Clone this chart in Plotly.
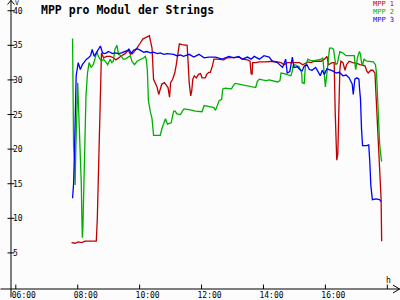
import plotly.graph_objects as go

# ---------------- data ----------------
t_mpp1 = ["07:48","07:55","08:01","08:08","08:14","08:21","08:27","08:36","08:38","08:40",
          "08:42","08:44","08:46","08:50","08:56","09:03","09:09","09:14","09:19","09:25",
          "09:32","09:38","09:42","09:46","09:52","09:57","10:01","10:06","10:11","10:16",
          "10:19","10:21","10:24","10:27","10:30","10:34","10:37","10:40","10:43","10:48",
          "10:52","10:55","10:58","11:00","11:04","11:08","11:11","11:14","11:17","11:22",
          "11:28","11:32","11:34","11:36","11:39","11:41","11:43","11:46","11:50","11:54",
          "11:58","12:01","12:07","12:10","12:14","12:17","12:21","12:24","12:30","12:37",
          "12:43","12:50","12:59","13:09","13:13","13:19","13:29","13:34","13:36","13:38",
          "13:39","13:45","13:52","14:05","14:17","14:27","14:34","14:40","14:46","14:56",
          "15:06","15:10","15:16","15:26","15:32","15:39","15:52","15:58","16:03","16:06",
          "16:13","16:17","16:19","16:21","16:22","16:24","16:26","16:28","16:30","16:34",
          "16:38","16:41","16:46","16:53","17:01","17:07","17:14","17:17","17:20","17:23",
          "17:28","17:32","17:36","17:38","17:41","17:43","17:45","17:46","17:48","17:49"]
v_mpp1 = [6.5,6.4,6.6,6.5,6.7,6.7,6.7,6.7,10.0,16.2,
          25.8,30.6,33.9,33.2,33.4,33.4,33.2,32.9,33.2,33.5,
          33.8,34.3,33.7,33.8,34.3,34.8,35.3,35.9,36.1,36.3,
          36.4,35.6,34.6,30.1,29.6,28.9,27.9,28.8,29.4,29.6,
          29.2,28.9,27.5,29.6,30.1,31.0,32.2,33.9,35.2,35.1,
          35.1,35.0,32.5,29.6,27.7,28.4,30.1,30.6,30.3,30.8,
          30.9,30.3,30.3,30.8,31.1,31.1,32.0,33.0,33.0,33.0,
          32.9,33.2,33.2,33.2,33.3,33.0,32.9,32.7,30.9,30.8,
          32.5,32.5,32.6,32.6,32.7,32.6,32.5,32.2,32.5,32.5,
          32.5,32.5,32.2,32.6,32.5,32.7,32.7,33.0,33.4,32.2,
          32.5,32.5,25.3,20.1,18.4,19.3,25.3,31.5,32.7,32.5,
          31.4,32.2,32.7,32.5,32.4,32.2,32.1,32.0,31.3,31.0,
          31.4,31.4,31.0,27.7,23.9,20.5,18.2,15.3,12.7,6.7]

t_mpp2 = ["07:50","07:52","07:54","07:55","07:56","07:58","08:00","08:02","08:05","08:07",
          "08:08","08:09","08:10","08:12","08:14","08:16","08:19","08:22","08:26","08:30",
          "08:34","08:37","08:40","08:43","08:46","08:50","08:54","08:58","09:03","09:06",
          "09:09","09:12","09:16","09:19","09:24","09:28","09:32","09:36","09:42","09:45",
          "09:50","09:55","10:01","10:08","10:11","10:13","10:15","10:17","10:21","10:24",
          "10:27","10:34","10:40","10:43","10:47","10:50","10:54","11:01","11:06","11:09",
          "11:12","11:19","11:23","11:26","11:36","11:48","12:01","12:05","12:11","12:17",
          "12:24","12:27","12:30","12:34","12:39","12:41","12:46","12:53","12:58","13:01",
          "13:05","13:12","13:19","13:29","13:39","13:45","13:48","13:52","13:58","14:05",
          "14:11","14:17","14:27","14:32","14:34","14:40","14:50","14:53","14:56","14:57",
          "15:01","15:06","15:09","15:14","15:15","15:19","15:21","15:26","15:32","15:39",
          "15:45","15:52","15:55","15:58","16:00","16:03","16:06","16:08","16:13","16:16",
          "16:18","16:20","16:23","16:26","16:28","16:34","16:40","16:50","16:56","16:58",
          "16:59","17:02","17:05","17:06","17:08","17:10","17:12","17:15","17:20","17:26",
          "17:33","17:37","17:39","17:41","17:43","17:45","17:47","17:49"]
v_mpp2 = [36.0,20.5,18.6,14.8,19.1,24.8,29.6,25.3,20.1,14.8,
          10.0,7.2,8.6,15.8,22.9,27.7,31.0,32.5,31.8,32.2,
          33.2,34.1,33.4,33.0,32.7,33.0,32.5,32.2,33.0,32.5,
          32.7,34.4,35.0,33.7,33.5,33.0,33.0,33.2,33.5,32.7,
          32.2,32.7,32.9,33.2,33.4,32.9,31.3,27.0,25.3,24.4,
          22.0,22.0,22.0,22.9,23.9,24.4,23.6,23.8,25.5,25.5,
          25.1,25.0,25.5,25.8,25.7,25.5,25.4,26.3,26.2,26.1,
          26.0,25.6,26.3,27.0,27.2,28.7,28.8,28.8,28.7,29.1,
          29.5,29.4,29.3,29.1,28.9,28.9,29.8,30.1,30.0,29.9,
          30.0,29.9,29.7,29.9,31.0,30.9,30.7,30.6,31.3,32.0,
          32.2,32.0,31.9,31.0,29.6,29.5,31.8,33.0,32.8,32.8,
          32.9,33.0,33.2,30.6,29.0,31.0,33.4,34.6,34.6,34.4,
          33.2,32.2,32.4,33.5,34.1,33.9,33.5,33.5,33.5,31.8,
          31.5,33.2,33.8,34.1,33.7,32.5,32.2,33.0,32.7,32.7,
          32.6,32.2,31.0,27.7,23.9,21.0,19.3,18.2]

t_mpp3 = ["07:50","07:52","07:54","07:56","07:57","08:01","08:05","08:09","08:13","08:17",
          "08:21","08:25","08:28","08:32","08:36","08:40","08:44","08:48","08:52","08:56",
          "08:59","09:03","09:07","09:12","09:19","09:25","09:32","09:38","09:39","09:44",
          "09:48","09:55","10:01","10:08","10:14","10:21","10:27","10:34","10:40","10:47",
          "10:53","10:59","11:06","11:12","11:19","11:25","11:36","11:45","11:55","12:05",
          "12:14","12:27","12:40","12:53","13:03","13:12","13:19","13:29","13:36","13:42",
          "13:52","14:01","14:11","14:17","14:27","14:37","14:43","14:46","14:51","14:56",
          "14:59","15:06","15:10","15:15","15:19","15:24","15:29","15:34","15:41","15:45",
          "15:50","15:54","15:58","16:03","16:08","16:14","16:21","16:27","16:34","16:40",
          "16:46","16:52","16:54","16:57","17:01","17:05","17:06","17:08","17:10","17:12",
          "17:20","17:24","17:26","17:28","17:31","17:38","17:45","17:48"]
v_mpp3 = [12.9,15.0,20.5,26.3,30.6,32.5,31.5,32.2,32.7,33.0,
          33.2,33.5,34.4,33.4,33.9,34.4,34.9,33.9,33.8,33.9,
          34.1,34.0,33.8,33.9,33.8,33.9,34.1,34.3,34.5,33.8,
          34.3,34.5,34.3,34.0,34.1,33.9,34.0,33.8,33.9,33.7,
          33.8,33.8,33.7,33.5,33.6,33.4,33.7,33.3,33.7,33.2,
          33.3,33.3,33.0,33.4,33.2,33.4,33.0,33.3,33.0,33.4,
          33.0,33.5,33.3,32.7,32.5,31.8,33.0,31.0,31.2,33.3,
          31.8,31.9,31.5,31.3,32.0,32.2,31.5,31.4,31.8,31.3,
          30.6,31.4,30.8,31.6,31.5,31.3,31.0,31.1,30.6,30.7,
          30.3,29.4,27.9,30.1,30.3,30.1,28.9,27.2,22.9,20.5,
          20.5,20.6,18.2,14.8,12.7,12.8,12.7,12.4]

series_names = ["MPP 1", "MPP 2", "MPP 3"]
series_colors = ["#c00000", "#00b000", "#0000ff"]
y_ticks = [5, 10, 15, 20, 25, 30, 35, 40]
x_ticks = [6, 8, 10, 12, 14, 16, 18]
x_ticktext = ["06:00", "08:00", "10:00", "12:00", "14:00", "16:00", "18:00"]
title_text = "MPP pro Modul der Strings"


def hours(ts):
    return [int(s[:2]) + int(s[3:]) / 60.0 for s in ts]


# ---------------- geometry ----------------
W, H = 400, 300
L, R, T, B = 10.5, 5, 0, 8.5
PW, PH = W - L - R, H - T - B
XR = [5.845, 18.248]
YR = [-0.215, 41.55]


def px(x):
    return (x - L) / PW


def py(y):
    return 1 - (y - T) / PH


fig = go.Figure()
for ts, vs, name, col in zip([t_mpp1, t_mpp2, t_mpp3], [v_mpp1, v_mpp2, v_mpp3],
                             series_names, series_colors):
    fig.add_trace(go.Scatter(x=hours(ts), y=vs, mode="lines", name=name,
                             line=dict(color=col, width=1.3), showlegend=False))

shapes = []
blk = dict(color="black", width=1)
# axes lines (extending beyond plot like the original)
shapes.append(dict(type="line", xref="paper", yref="paper", x0=px(10.5), x1=px(10.5),
                   y0=py(0), y1=py(300), line=blk))
shapes.append(dict(type="line", xref="paper", yref="paper", x0=px(0), x1=px(400),
                   y0=py(291.5), y1=py(291.5), line=blk))
# arrow heads
shapes.append(dict(type="path", xref="paper", yref="paper",
                   path="M %f %f L %f %f L %f %f" % (px(7), py(4.5), px(10.5), py(0.5), px(14), py(4.5)),
                   line=blk))
shapes.append(dict(type="path", xref="paper", yref="paper",
                   path="M %f %f L %f %f L %f %f" % (px(393), py(287.5), px(399.5), py(291.5), px(393), py(295.5)),
                   line=blk))
# y ticks (cross style)
for v in y_ticks:
    shapes.append(dict(type="line", xref="paper", yref="y", x0=px(7), x1=px(14),
                       y0=v, y1=v, line=blk))
# x ticks
for h in x_ticks:
    shapes.append(dict(type="line", xref="x", yref="paper", x0=h, x1=h,
                       y0=py(287), y1=py(291.5), line=blk))

mono = "DejaVu Sans Mono"
ann = []
ann.append(dict(text="<b>%s</b>" % title_text, xref="paper", yref="paper", x=px(39), y=py(1),
                xanchor="left", yanchor="top", showarrow=False,
                font=dict(family=mono, size=11.5, color="black")))
for i, (n, c) in enumerate(zip(series_names, series_colors)):
    ann.append(dict(text=n, xref="paper", yref="paper", x=px(395), y=py(4.5 + 8 * i),
                    xanchor="right", yanchor="middle", showarrow=False, borderpad=0,
                    font=dict(family=mono, size=7, color=c)))
ann.append(dict(text="V", xref="paper", yref="paper", x=px(13.5), y=py(-2.5),
                xanchor="left", yanchor="top", showarrow=False, borderpad=0,
                font=dict(family=mono, size=6.5, color="black")))
ann.append(dict(text="h", xref="paper", yref="paper", x=px(384), y=py(276),
                xanchor="left", yanchor="top", showarrow=False,
                font=dict(family=mono, size=8, color="black")))
for v in y_ticks:
    ann.append(dict(text=str(v), xref="paper", yref="y", x=px(11.5), y=v, yshift=-0.5,
                    xanchor="left", yanchor="middle", showarrow=False, borderpad=0,
                    font=dict(family=mono, size=8, color="black")))

fig.update_layout(
    width=W, height=H,
    margin=dict(l=L, r=R, t=T, b=B, pad=0),
    paper_bgcolor="#fcfcfc", plot_bgcolor="#fcfcfc",
    shapes=shapes, annotations=ann,
    xaxis=dict(range=XR, showgrid=False, zeroline=False, showline=False,
               tickvals=x_ticks, ticktext=x_ticktext, ticks="",
               ticklabelshift=8, ticklabelstandoff=0,
               tickfont=dict(family=mono, size=8, color="black")),
    yaxis=dict(range=YR, showgrid=False, zeroline=False, showline=False,
               showticklabels=False, ticks=""),
)
fig.write_html("out.html")
